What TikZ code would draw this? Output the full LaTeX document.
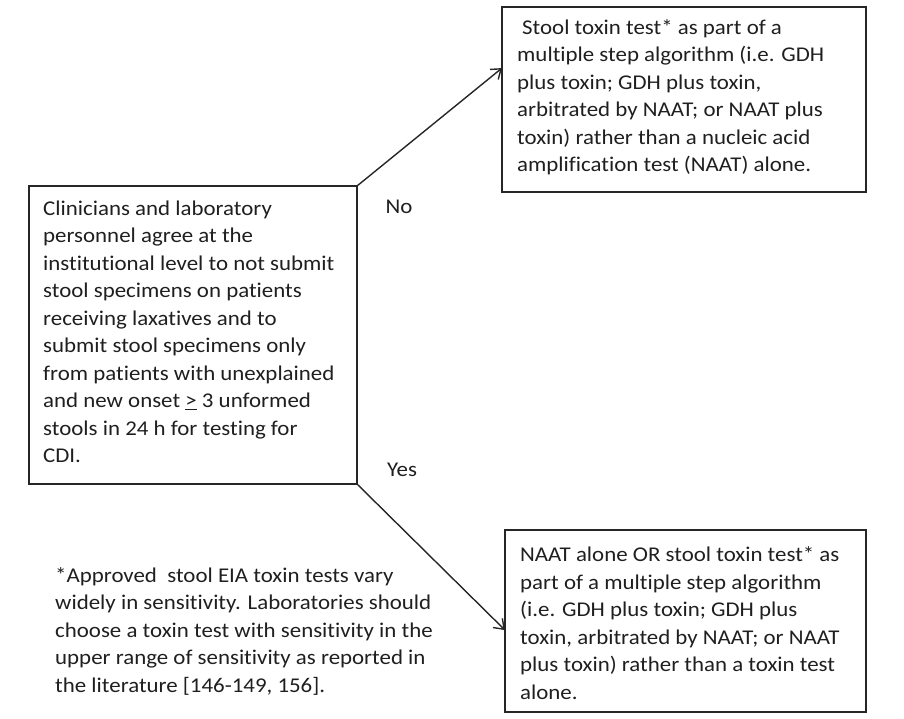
\documentclass[tikz,border=0pt]{standalone}
\usepackage{fontspec}
\setmainfont{Carlito}[FakeStretch=1.09,RawFeature=-liga]
\usetikzlibrary{arrows.meta,calc}
\begin{document}
\begin{tikzpicture}[x=1pt,y=-1pt,
  box/.style={draw=black!85, line width=1.4pt, outer sep=0pt, inner sep=0pt, anchor=north west},
  txt/.style={align=left, inner sep=0pt, anchor=west, text=black!88,
    font=\fontsize{21}{27.5}\selectfont},
  lab/.style={inner sep=0pt, text=black!88, font=\fontsize{21}{25}\selectfont},
  arr/.style={draw=black!85, line width=1.4pt, -{Straight Barb[length=9pt,width=13pt,line width=1.4pt]}}]
\useasboundingbox (0,0) rectangle (904,718);
% boxes
\node[box, minimum width=328pt, minimum height=298pt] (lbox) at (29,186) {};
\node[box, minimum width=364pt, minimum height=185pt] (tbox) at (502,7) {};
\node[box, minimum width=361pt, minimum height=182pt] (bbox) at (505,530) {};
% texts
\node[txt] (ltext) at (43,332) {Clinicians and laboratory\\
personnel agree at the\\
institutional level to not submit\\
stool specimens on patients\\
receiving laxatives and to\\
submit stool specimens only\\
from patients with unexplained\\
and new onset \underline{>} 3 unformed\\
stools in 24 h for testing for\\
CDI.};
\node[txt] (ttext) at (517,97) {\hspace*{5pt}Stool toxin test* as part of a\\
multiple step algorithm (i.e. GDH\\
plus toxin; GDH plus toxin,\\
arbitrated by NAAT; or NAAT plus\\
toxin) rather than a nucleic acid\\
amplification test (NAAT) alone.};
\node[txt] (btext) at (520,623) {NAAT alone OR stool toxin test* as\\
part of a multiple step algorithm\\
(i.e. GDH plus toxin; GDH plus\\
toxin, arbitrated by NAAT; or NAAT\\
plus toxin) rather than a toxin test\\
alone.};
\node[txt] (ftext) at (55,631) {*Approved\ \ stool EIA toxin tests vary\\
widely in sensitivity. Laboratories should\\
choose a toxin test with sensitivity in the\\
upper range of sensitivity as reported in\\
the literature [146-149, 156].};
% labels
\node[lab] (no) at (399,207) {No};
\node[lab] (yes) at (402,470) {Yes};
% connectors
\coordinate (ttip) at ($(tbox.north west)!0.33!(tbox.south west)$);
\coordinate (btip) at ($(bbox.north west)!0.55!(bbox.south west)$);
\draw[arr] (lbox.north east) -- (ttip);
\draw[arr] (lbox.south east) -- (btip);
\end{tikzpicture}
\end{document}
